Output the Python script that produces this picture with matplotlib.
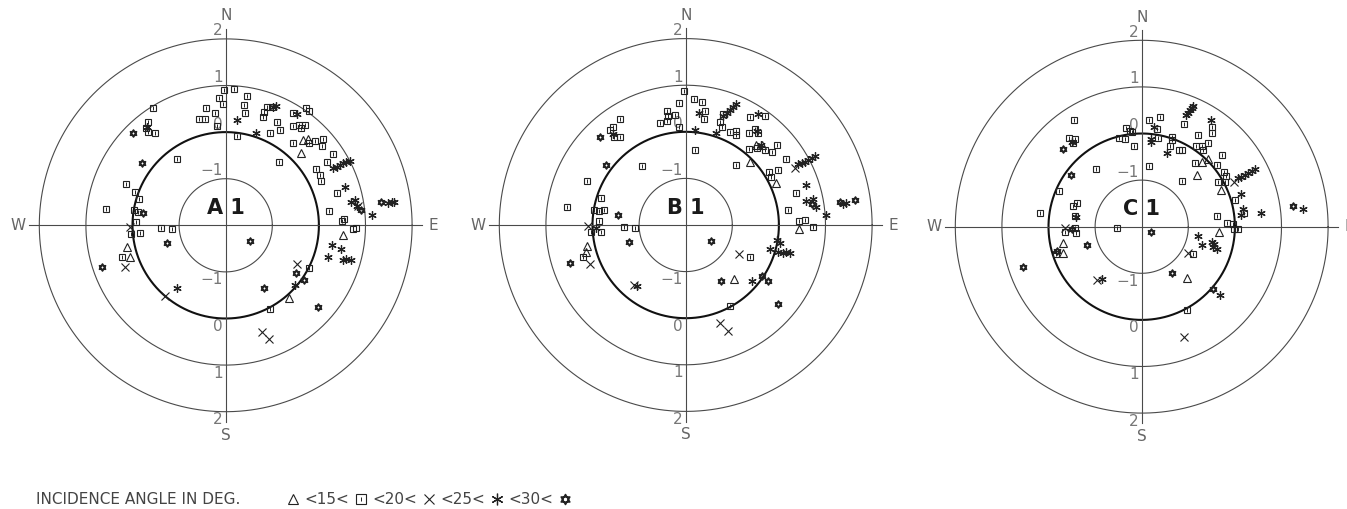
import matplotlib
matplotlib.use("Agg")
import matplotlib.pyplot as plt
from matplotlib.path import Path
import numpy as np

# values printed on the N-S axis, ring radius = value + 2
ring_values = [-1, 0, 1, 2]
panel_names = ["A 1", "B 1", "C 1"]
class_labels = ["<15<", "<20<", "<25<", "<30<"]

# ---- A 1 : (east, north) per incidence angle class ----
a_tri = [(1.66, 1.83), (1.76, 1.86), (1.62, 1.56), (-2.12, -0.46), (-2.06, -0.68),
         (1.35, -1.57), (2.52, -0.21)]
a_sq = [(-0.03, 2.91), (0.17, 2.92), (0.46, 2.78), (-0.14, 2.74), (-0.05, 2.61),
        (-1.56, 2.51), (-0.43, 2.52), (-0.24, 2.41), (-0.58, 2.29), (-0.44, 2.29),
        (-0.19, 2.14), (0.40, 2.59), (0.41, 2.42), (0.88, 2.54), (0.99, 2.54),
        (0.82, 2.44), (0.81, 2.33), (1.44, 2.40), (1.72, 2.51), (1.79, 2.46),
        (1.11, 2.22), (1.16, 2.04), (0.95, 1.97), (1.44, 2.13), (1.57, 2.15),
        (1.71, 2.16), (1.61, 2.08), (0.25, 1.91), (1.91, 1.81), (2.09, 1.85),
        (2.07, 1.70), (1.45, 1.76), (1.79, 1.76), (2.30, 1.52), (1.15, 1.35),
        (-1.05, 1.42), (-1.66, 2.22), (-1.71, 2.09), (-1.66, 2.01), (-1.51, 1.99),
        (2.17, 1.35), (1.94, 1.20), (2.03, 1.08), (2.04, 0.95), (2.38, 0.69),
        (2.49, 0.10), (2.54, 0.14), (2.21, 0.31), (-2.14, 0.89), (-1.94, 0.71),
        (-1.86, 0.56), (-2.57, 0.34), (-1.96, 0.33), (-1.89, 0.29), (-1.92, 0.08),
        (-1.39, -0.06), (-1.16, -0.07), (2.74, -0.08), (2.79, -0.06), (-2.03, -0.18),
        (-1.84, -0.16), (-2.22, -0.69), (1.78, -0.91), (0.95, -1.79)]
a_x = [(-2.05, -0.03), (-2.16, -0.89), (-1.31, -1.51), (1.52, -0.84), (0.77, -2.30),
       (0.93, -2.43), (2.84, 0.42)]
a_ast = [(1.02, 2.54), (1.08, 2.56), (1.54, 2.39), (0.25, 2.27), (0.66, 1.99),
         (-1.68, 2.10), (2.31, 1.22), (2.38, 1.26), (2.45, 1.29), (2.52, 1.33),
         (2.59, 1.35), (2.66, 1.39), (2.56, 0.83), (2.68, 0.51), (2.77, 0.54),
         (2.81, 0.42), (3.15, 0.22), (3.49, 0.47), (3.56, 0.49), (3.61, 0.51),
         (2.29, -0.43), (2.47, -0.51), (2.20, -0.68), (2.51, -0.75), (2.59, -0.73),
         (2.69, -0.74), (-1.04, -1.34), (1.49, -1.29)]
a_star = [(-1.98, 1.99), (-1.80, 1.34), (3.34, 0.49), (2.91, 0.33), (-1.78, 0.26),
          (-2.66, -0.89), (-1.25, -0.39), (0.52, -0.34), (1.50, -1.02), (1.69, -1.18),
          (0.83, -1.34), (1.99, -1.75)]

# ---- B 1 ----
b_tri = [(1.50, 1.71), (1.64, 1.72), (1.39, 1.35), (1.94, 0.91), (2.44, -0.08),
         (-2.12, -0.44), (-2.14, -0.57), (1.04, -1.16)]
b_sq = [(-0.04, 2.88), (0.17, 2.71), (0.36, 2.63), (-0.14, 2.61), (-0.41, 2.45),
        (-0.22, 2.36), (-0.55, 2.19), (-0.41, 2.24), (-0.37, 2.33), (-0.15, 2.11),
        (0.41, 2.44), (0.39, 2.27), (0.79, 2.38), (0.74, 2.22), (0.77, 2.10),
        (1.39, 2.31), (1.70, 2.33), (0.96, 1.99), (1.08, 1.94), (1.09, 2.02),
        (1.36, 1.97), (1.49, 2.06), (1.56, 1.97), (1.36, 1.64), (1.52, 1.66),
        (1.70, 1.61), (1.86, 1.56), (1.96, 1.71), (2.15, 1.42), (0.21, 1.61),
        (1.09, 1.28), (-0.93, 1.26), (-1.62, 2.04), (-1.55, 2.11), (-1.41, 2.27),
        (-1.54, 1.88), (-1.41, 1.89), (-2.12, 0.94), (-1.82, 0.58), (-2.55, 0.38),
        (-1.96, 0.33), (-1.87, 0.31), (-1.76, 0.32), (-1.86, 0.08), (-1.32, -0.04),
        (-1.09, -0.06), (1.78, 1.13), (1.97, 1.19), (1.84, 1.04), (2.36, 0.69),
        (2.19, 0.33), (2.44, 0.09), (2.56, 0.11), (2.74, -0.05), (-1.82, -0.14),
        (-2.04, -0.16), (-2.21, -0.69), (1.39, -0.69), (0.96, -1.74)]
b_x = [(2.34, 1.22), (-2.09, -0.03), (-2.05, -0.84), (-1.12, -1.29), (1.14, -0.63),
       (0.74, -2.11), (0.91, -2.27)]
b_ast = [(0.29, 2.40), (0.21, 2.04), (0.81, 2.33), (0.88, 2.40), (0.95, 2.47),
         (1.02, 2.53), (1.08, 2.59), (0.66, 1.97), (1.55, 2.39), (1.52, 2.02),
         (1.61, 1.72), (-1.57, 1.95), (2.41, 1.31), (2.49, 1.34), (2.56, 1.36),
         (2.63, 1.40), (2.70, 1.44), (2.77, 1.47), (2.59, 0.85), (2.59, 0.51),
         (2.74, 0.56), (2.79, 0.38), (3.02, 0.22), (3.38, 0.45), (3.45, 0.47),
         (-1.92, -0.06), (-1.05, -1.30), (1.43, -1.21), (1.95, -0.32), (2.02, -0.39),
         (1.81, -0.51), (2.09, -0.61), (2.16, -0.59), (2.24, -0.61), (1.99, -0.57)]
b_star = [(-1.83, 1.89), (-1.71, 1.29), (-1.46, 0.22), (2.72, 0.45), (3.32, 0.49),
          (3.63, 0.54), (-2.49, -0.82), (-1.21, -0.37), (0.55, -0.34), (0.76, -1.20),
          (1.64, -1.09), (1.77, -1.21), (1.97, -1.69)]

# ---- C 1 ----
c_tri = [(1.29, 1.38), (1.43, 1.46), (1.19, 1.12), (1.71, 0.79), (1.66, -0.12),
         (-1.68, -0.36), (-1.68, -0.57), (0.98, -1.11)]
c_sq = [(-1.46, 2.30), (0.16, 2.30), (0.40, 2.36), (-0.34, 2.11), (-0.21, 2.04),
        (-0.49, 1.91), (-0.36, 1.89), (-0.16, 1.74), (-0.25, 2.05), (0.32, 2.09),
        (0.34, 1.91), (0.64, 1.93), (0.66, 1.87), (0.60, 1.73), (0.80, 1.64),
        (0.87, 1.64), (0.91, 2.20), (1.51, 2.14), (1.51, 2.02), (1.20, 1.96),
        (1.16, 1.74), (1.29, 1.74), (1.43, 1.79), (1.31, 1.64), (1.73, 1.54),
        (1.61, 1.32), (1.14, 1.36), (1.77, 1.18), (1.64, 0.95), (1.79, 0.95),
        (1.80, 1.09), (0.16, 1.31), (0.86, 0.99), (-1.55, 1.91), (-1.43, 1.89),
        (-1.47, 1.79), (-0.99, 1.23), (-1.77, 0.76), (-2.19, 0.30), (-1.47, 0.45),
        (-1.38, 0.50), (-1.43, 0.23), (-1.43, -0.02), (-1.64, -0.12), (-0.54, -0.03),
        (2.00, 0.57), (2.20, 0.30), (1.61, 0.23), (1.84, 0.09), (1.96, 0.06),
        (2.07, -0.05), (1.97, -0.05), (-1.41, -0.14), (-1.84, -0.59), (1.11, -0.59),
        (0.97, -1.79)]
c_x = [(1.99, 0.96), (-1.64, -0.02), (-0.95, -1.14), (1.00, -0.56), (0.91, -2.36)]
c_ast = [(0.27, 2.14), (0.20, 1.82), (0.21, 1.89), (0.54, 1.59), (0.96, 2.39),
         (1.00, 2.44), (1.04, 2.50), (1.07, 2.55), (1.11, 2.59), (1.48, 2.29),
         (2.07, 1.04), (2.14, 1.07), (2.21, 1.11), (2.29, 1.16), (2.36, 1.19),
         (2.43, 1.23), (-1.49, 1.82), (-1.41, 0.21), (2.14, 0.70), (2.18, 0.39),
         (2.14, 0.26), (2.57, 0.30), (3.46, 0.37), (-0.86, -1.13), (1.21, -0.21),
         (1.29, -0.39), (1.50, -0.32), (1.54, -0.43), (1.61, -0.48), (1.56, -0.38),
         (1.69, -1.46)]
c_star = [(-1.68, 1.66), (-1.51, 1.12), (0.19, -0.11), (3.24, 0.44), (-1.50, -0.04),
          (-1.81, -0.52), (-2.55, -0.86), (-1.18, -0.39), (0.64, -1.00), (1.54, -1.34)]

INK = "#222222"
GRID = "#4a4a4a"
LABEL = "#777777"

# hexagram marker: two closed triangles sharing a centre
_ang_up = np.pi / 2 + np.arange(3) * 2 * np.pi / 3
_ang_dn = -np.pi / 2 + np.arange(3) * 2 * np.pi / 3
_verts = ([(np.cos(a), np.sin(a)) for a in _ang_up] + [(0, 0)] +
          [(np.cos(a), np.sin(a)) for a in _ang_dn] + [(0, 0)])
_codes = [Path.MOVETO, Path.LINETO, Path.LINETO, Path.CLOSEPOLY] * 2
HEXAGRAM = Path(_verts, _codes)


def draw_symbol(ax, pts, kind, scale=1.0):
    xs = [p[0] for p in pts]
    ys = [p[1] for p in pts]
    if kind == "tri":
        ax.plot(xs, ys, ls="none", marker="^", ms=5.2 * scale, mfc="none", mec=INK, mew=0.8, zorder=5)
    elif kind == "sq":
        ax.plot(xs, ys, ls="none", marker="s", ms=5.0 * scale, mfc="none", mec=INK, mew=0.8, zorder=5)
        ax.plot(xs, ys, ls="none", marker="|", ms=2.3 * scale, mec=INK, mew=0.7, zorder=5)
    elif kind == "x":
        ax.plot(xs, ys, ls="none", marker="x", ms=5.5 * scale, mec=INK, mew=0.8, zorder=5)
    elif kind == "ast":
        ax.plot(xs, ys, ls="none", marker=(6, 2, 0), ms=6.0 * scale, mec=INK, mew=0.9, zorder=5)
    elif kind == "star":
        ax.plot(xs, ys, ls="none", marker=HEXAGRAM, ms=5.2 * scale, mfc="none", mec=INK, mew=1.1, zorder=5)


fig = plt.figure(figsize=(13.47, 5.09), dpi=100)
W, H = 1347, 509
unit = 46.6
half = 4.82
centers = [(225.7, 225.3), (685.7, 225.0), (1141.7, 226.7)]
panels = [
    (a_tri, a_sq, a_x, a_ast, a_star),
    (b_tri, b_sq, b_x, b_ast, b_star),
    (c_tri, c_sq, c_x, c_ast, c_star),
]
kinds = ["tri", "sq", "x", "ast", "star"]

theta = np.linspace(0, 2 * np.pi, 400)
for (cx, cy), name, sets in zip(centers, panel_names, panels):
    ax = fig.add_axes([(cx - half * unit) / W, (H - cy - half * unit) / H,
                       2 * half * unit / W, 2 * half * unit / H])
    ax.set_xlim(-half, half)
    ax.set_ylim(-half, half)
    ax.set_aspect("equal")
    ax.axis("off")

    # rings
    for v in ring_values:
        r = v + 2
        if v == 0:
            ax.plot(r * np.cos(theta), r * np.sin(theta), color="#111111", lw=1.5, zorder=2)
        else:
            ax.plot(r * np.cos(theta), r * np.sin(theta), color=GRID, lw=0.8, zorder=2)
        for sgn in (1, -1):
            ax.text(-0.06, sgn * (r + 0.17), str(v).replace("-", "\u2212"), ha="right",
                    va="center", fontsize=11, color=LABEL, zorder=3)

    # cross axes
    ax.plot([-4.22, 4.22], [0, 0], color=GRID, lw=0.8, zorder=2)
    ax.plot([0, 0], [-4.22, 4.22], color=GRID, lw=0.8, zorder=2)
    ax.text(0, 4.5, "N", ha="center", va="center", fontsize=11, color="#666666")
    ax.text(0, -4.5, "S", ha="center", va="center", fontsize=11, color="#666666")
    ax.text(-4.45, 0, "W", ha="center", va="center", fontsize=11, color="#666666")
    ax.text(4.45, 0, "E", ha="center", va="center", fontsize=11, color="#666666")

    ax.text(0, 0.37, name, ha="center", va="center", fontsize=15, fontweight="bold",
            color="#1a1a1a", zorder=6)

    for pts, kind in zip(sets, kinds):
        draw_symbol(ax, pts, kind)

# key line at the bottom
leg = fig.add_axes([0, 0, 1, 60 / H])
leg.set_xlim(0, W)
leg.set_ylim(0, 60)
leg.axis("off")
ty = 10
leg.text(36, ty, "INCIDENCE ANGLE IN DEG.", ha="left", va="center", fontsize=11, color="#444444")
sym_x = [293, 361, 429, 497, 565]
for sx, kind in zip(sym_x, kinds):
    draw_symbol(leg, [(sx, ty)], kind, scale=1.4)
for i, lab in enumerate(class_labels):
    leg.text((sym_x[i] + sym_x[i + 1]) / 2, ty, lab, ha="center", va="center",
             fontsize=11, color="#444444")

fig.savefig("out.png", dpi=100, facecolor="white")
